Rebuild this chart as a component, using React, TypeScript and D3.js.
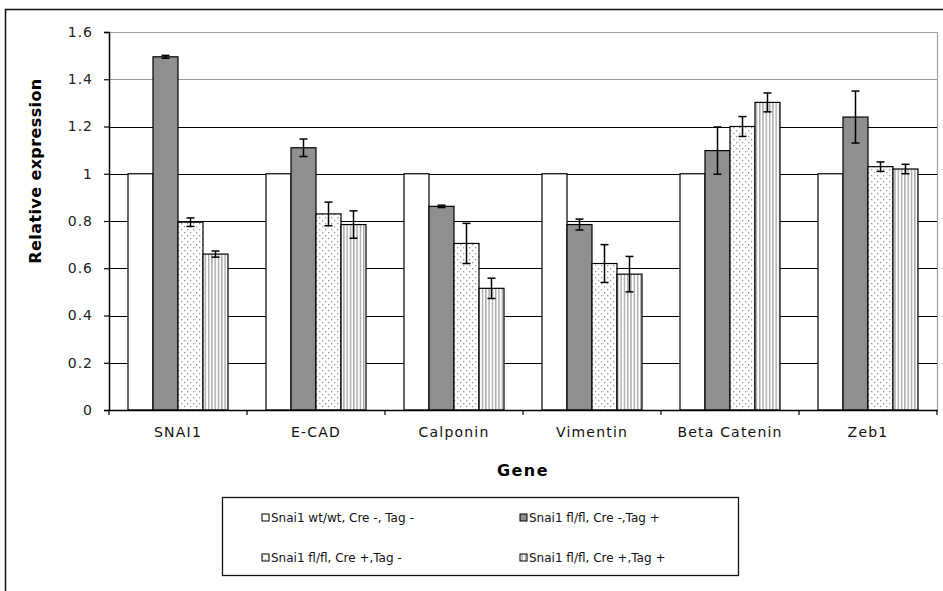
import React, { useEffect, useRef } from 'react';
import * as d3 from 'd3';

// chart data
const genes = ['SNAI1', 'E-CAD', 'Calponin', 'Vimentin', 'Beta Catenin', 'Zeb1'];
const seriesNames = [
  'Snai1 wt/wt, Cre -, Tag -',
  'Snai1 fl/fl, Cre -,Tag +',
  'Snai1 fl/fl, Cre +,Tag -',
  'Snai1 fl/fl, Cre +,Tag +',
];
const wtValues = [1, 1, 1, 1, 1, 1];
const creNegTagPos = [1.495, 1.11, 0.862, 0.785, 1.098, 1.24];
const creNegTagPosErr = [0.006, 0.037, 0.005, 0.023, 0.1, 0.11];
const crePosTagNeg = [0.795, 0.83, 0.705, 0.62, 1.2, 1.03];
const crePosTagNegErr = [0.018, 0.05, 0.085, 0.08, 0.042, 0.02];
const crePosTagPos = [0.66, 0.785, 0.515, 0.575, 1.302, 1.02];
const crePosTagPosErr = [0.013, 0.058, 0.043, 0.075, 0.04, 0.02];
const yTicks = [0, 0.2, 0.4, 0.6, 0.8, 1, 1.2, 1.4, 1.6];

const App = () => {
  const ref = useRef<SVGSVGElement | null>(null);

  useEffect(() => {
    const svg = d3.select(ref.current);
    svg.selectAll('*').remove();

    const W = 943;
    const H = 591;
    const left = 109, right = 937, top = 32, bottom = 410;
    const font = "'DejaVu Sans', Verdana, sans-serif";

    const values = [wtValues, creNegTagPos, crePosTagNeg, crePosTagPos];
    const errors = [null, creNegTagPosErr, crePosTagNegErr, crePosTagPosErr];

    const x = d3.scaleBand().domain(genes).range([left, right]).padding(0);
    const xs = d3
      .scaleBand<number>()
      .domain([0, 1, 2, 3])
      .range([0, x.bandwidth()])
      .paddingInner(0)
      .paddingOuter(0.76);
    const y = d3.scaleLinear().domain([0, 1.6]).range([bottom, top]);

    // patterns
    const defs = svg.append('defs');
    const dots = defs
      .append('pattern')
      .attr('id', 'dots')
      .attr('patternUnits', 'userSpaceOnUse')
      .attr('width', 6)
      .attr('height', 6);
    dots.append('rect').attr('width', 6).attr('height', 6).attr('fill', '#fff');
    dots.append('rect').attr('x', 1).attr('y', 1).attr('width', 1.3).attr('height', 1.3).attr('fill', '#9a9a9a');
    dots.append('rect').attr('x', 4).attr('y', 4).attr('width', 1.3).attr('height', 1.3).attr('fill', '#9a9a9a');

    const stripes = defs
      .append('pattern')
      .attr('id', 'stripes')
      .attr('patternUnits', 'userSpaceOnUse')
      .attr('width', 3.3)
      .attr('height', 4);
    stripes.append('rect').attr('width', 3.3).attr('height', 4).attr('fill', '#fff');
    stripes.append('rect').attr('x', 0).attr('width', 1.4).attr('height', 4).attr('fill', '#a8a8a8');

    const fills = ['#ffffff', '#8f8f8f', 'url(#dots)', 'url(#stripes)'];

    svg.append('rect').attr('width', W).attr('height', H).attr('fill', '#fff');

    // outer chart border
    svg
      .append('rect')
      .attr('x', 5.5)
      .attr('y', 9.5)
      .attr('width', W + 10)
      .attr('height', H + 10)
      .attr('fill', 'none')
      .attr('stroke', '#111')
      .attr('stroke-width', 1.5);

    // plot area border (top / right)
    svg
      .append('path')
      .attr('d', `M${left},${top + 0.5}H${right + 0.5}V${bottom}`)
      .attr('fill', 'none')
      .attr('stroke', '#a0a0a0')
      .attr('stroke-width', 1.2);

    // gridlines
    svg
      .append('g')
      .selectAll('line')
      .data(yTicks.slice(1, -1))
      .join('line')
      .attr('x1', left)
      .attr('x2', right)
      .attr('y1', d => Math.round(y(d)) + 0.5)
      .attr('y2', d => Math.round(y(d)) + 0.5)
      .attr('stroke', d => (d === 1.4 ? '#9a9a9a' : '#000'))
      .attr('stroke-width', 1.2);

    // bars
    values.forEach((vals, s) => {
      svg
        .append('g')
        .selectAll('rect')
        .data(vals)
        .join('rect')
        .attr('x', (d, i) => (x(genes[i]) as number) + (xs(s) as number))
        .attr('y', d => y(d))
        .attr('width', xs.bandwidth())
        .attr('height', d => bottom - y(d))
        .attr('fill', fills[s])
        .attr('stroke', '#000')
        .attr('stroke-width', 1.2);
    });

    // error bars
    values.forEach((vals, s) => {
      const err = errors[s];
      if (!err) return;
      const g = svg.append('g').attr('stroke', '#000').attr('stroke-width', 1.5);
      vals.forEach((v, i) => {
        const cx = (x(genes[i]) as number) + (xs(s) as number) + xs.bandwidth() / 2;
        const y1 = y(v + err[i]);
        const y2 = y(v - err[i]);
        g.append('line').attr('x1', cx).attr('x2', cx).attr('y1', y1).attr('y2', y2);
        g.append('line').attr('x1', cx - 4).attr('x2', cx + 4).attr('y1', y1).attr('y2', y1);
        g.append('line').attr('x1', cx - 4).attr('x2', cx + 4).attr('y1', y2).attr('y2', y2);
      });
    });

    // y axis
    const yAxis = svg
      .append('g')
      .attr('transform', `translate(${left},0)`)
      .call(
        d3
          .axisLeft(y)
          .tickValues(yTicks)
          .tickSize(5)
          .tickPadding(11)
          .tickFormat(d => String(d))
      );
    yAxis.select('.domain').attr('stroke', '#000').attr('stroke-width', 1.5);
    yAxis.selectAll('.tick line').attr('stroke', '#000').attr('stroke-width', 1.2);
    yAxis
      .selectAll('.tick text')
      .attr('fill', '#222')
      .style('font-family', font)
      .style('font-size', '14px')
      .style('letter-spacing', '1px');

    // x axis
    const xAxis = svg
      .append('g')
      .attr('transform', `translate(0,${bottom})`)
      .call(d3.axisBottom(x).tickSize(0).tickPadding(17));
    xAxis.select('.domain').attr('stroke', '#000').attr('stroke-width', 1.5);
    xAxis
      .selectAll('.tick text')
      .attr('fill', '#111')
      .style('font-family', font)
      .style('font-size', '14px')
      .style('letter-spacing', '1.2px');
    // ticks at category boundaries
    svg
      .append('g')
      .selectAll('line')
      .data(genes)
      .join('line')
      .attr('x1', d => x(d) as number)
      .attr('x2', d => x(d) as number)
      .attr('y1', bottom)
      .attr('y2', bottom + 5)
      .attr('stroke', '#000')
      .attr('stroke-width', 1.2);
    svg
      .append('line')
      .attr('x1', right)
      .attr('x2', right)
      .attr('y1', bottom)
      .attr('y2', bottom + 5)
      .attr('stroke', '#000')
      .attr('stroke-width', 1.2);

    // axis titles
    svg
      .append('text')
      .attr('transform', 'translate(35,171) rotate(-90)')
      .attr('text-anchor', 'middle')
      .attr('dy', '0.35em')
      .style('font-family', font)
      .style('font-size', '16px')
      .style('font-weight', 'bold')
      .style('letter-spacing', '0.4px')
      .text('Relative expression');

    svg
      .append('text')
      .attr('x', (left + right) / 2)
      .attr('y', 470)
      .attr('text-anchor', 'middle')
      .attr('dy', '0.35em')
      .style('font-family', font)
      .style('font-size', '16px')
      .style('font-weight', 'bold')
      .style('letter-spacing', '1.5px')
      .text('Gene');

    // legend
    const legend = svg.append('g');
    legend
      .append('rect')
      .attr('x', 222.5)
      .attr('y', 497.5)
      .attr('width', 516)
      .attr('height', 78)
      .attr('fill', '#fff')
      .attr('stroke', '#111')
      .attr('stroke-width', 1.3);

    const legendPos = [
      [262, 518],
      [520, 518],
      [262, 558],
      [520, 558],
    ];
    seriesNames.forEach((name, s) => {
      const [lx, ly] = legendPos[s];
      legend
        .append('rect')
        .attr('x', lx)
        .attr('y', ly - 4)
        .attr('width', 7)
        .attr('height', 7)
        .attr('fill', fills[s])
        .attr('stroke', '#000')
        .attr('stroke-width', 1);
      legend
        .append('text')
        .attr('x', lx + 9)
        .attr('y', ly)
        .attr('dy', '0.35em')
        .attr('fill', '#111')
        .style('font-family', font)
        .style('font-size', '12px')
        .text(name);
    });
  }, []);

  return (
    <svg
      ref={ref}
      width={943}
      height={591}
      style={{ position: 'absolute', left: 0, top: 0, display: 'block' }}
    />
  );
};

export default App;
